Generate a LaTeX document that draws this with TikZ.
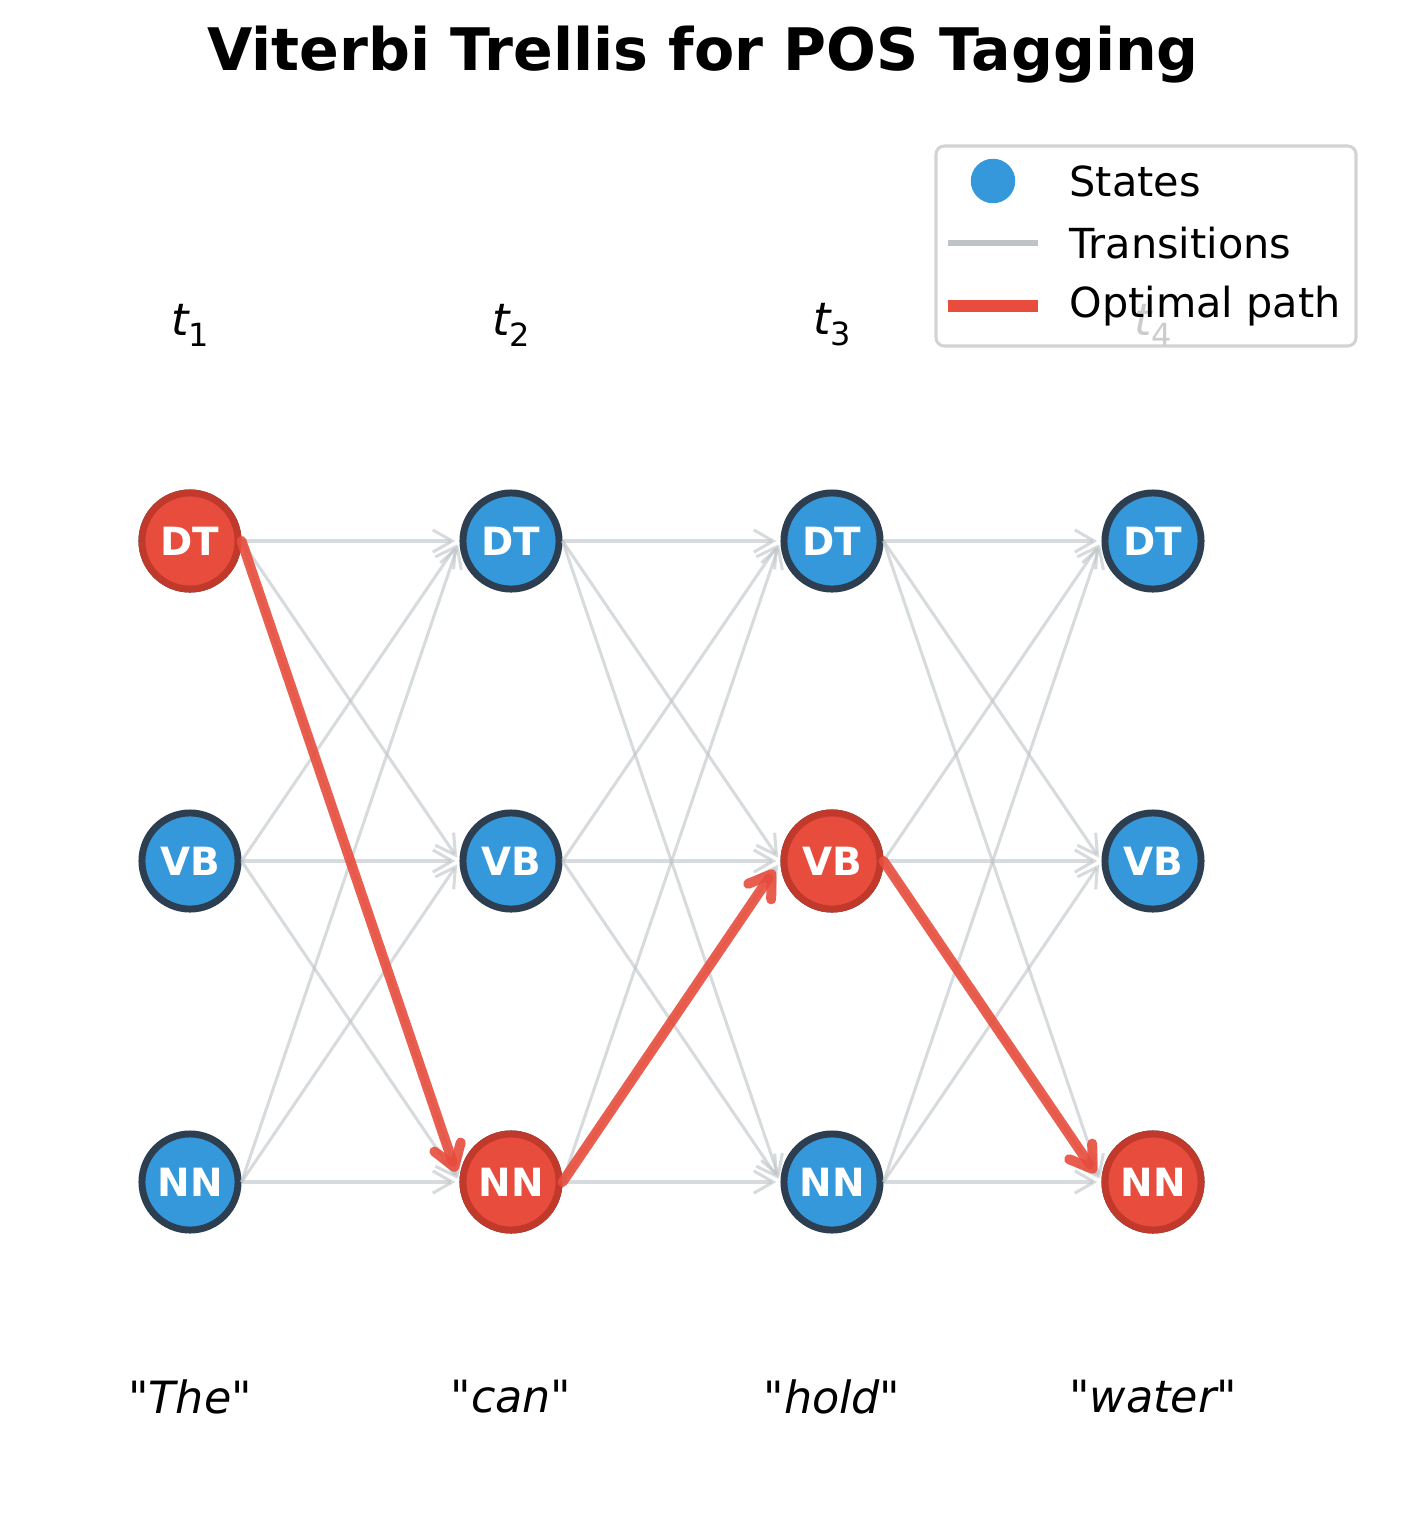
\documentclass[tikz,border=0pt]{standalone}
\usepackage{fontspec}
\setmainfont{DejaVu Sans}
\usepackage{tikz}
\usetikzlibrary{arrows.meta}
\definecolor{stateblue}{HTML}{3498DB}
\definecolor{stateedge}{HTML}{2C3E50}
\definecolor{pathred}{HTML}{E74C3C}
\definecolor{pathedge}{HTML}{C0392B}
\definecolor{transgray}{HTML}{BDC3C7}
\definecolor{legendgray}{HTML}{D3D3D3}
\newcommand{\tstep}[1]{{\itshape t}\raisebox{-0.45ex}{\fontsize{11.5}{12}\selectfont #1}}
\newcommand{\quoted}[1]{{\upshape\textquotedbl}#1{\upshape\textquotedbl}}

\begin{document}
\begin{tikzpicture}[x=0.36pt,y=-0.36pt,
  state/.style={circle,minimum size=34.6pt,inner sep=0pt,line width=2.5pt,
    draw=stateedge,fill=stateblue,text=white,font=\bfseries\fontsize{14}{14}\selectfont},
  beststate/.style={state,draw=pathedge,fill=pathred},
  trans/.style={draw=transgray,draw opacity=0.6,line width=1.1pt,shorten >=1.5pt,
    -{Straight Barb[length=7pt,width=8pt]}},
  best/.style={draw=pathred,draw opacity=0.9,line width=3.6pt,line cap=round,shorten >=4pt,
    -{Straight Barb[length=7.5pt,width=10pt,round]}},
  word/.style={font=\itshape\fontsize{16}{16}\selectfont}]
\useasboundingbox (0,0) rectangle (1407,1534);
\node[font=\bfseries\fontsize{21.1}{22}\selectfont] (title) at (703,55) {Viterbi Trellis for POS Tagging};
% trellis states
\foreach \x/\i in {190/1,511/2,832/3,1153/4}{
  \node[font=\fontsize{16}{16}\selectfont] (t\i) at (\x,325) {\tstep{\i}};
  \foreach \y/\tag in {541/DT,861/VB,1182/NN}
    \node[state] (\tag\i) at (\x,\y) {\tag};
}
\foreach \tag/\i in {DT/1,NN/2,VB/3,NN/4}
  \node[beststate] at (\tag\i) {\tag};
% all transitions
\foreach \i/\j in {1/2,2/3,3/4}
  \foreach \a in {DT,VB,NN}
    \foreach \b in {DT,VB,NN}
      \draw[trans] (\a\i.east) -- (\b\j.west);
% optimal path
\draw[best] (DT1.east) -- (NN2.west);
\draw[best] (NN2.east) -- (VB3.west);
\draw[best] (VB3.east) -- (NN4.west);
% words
\node[word] (w1) at (190,1397) {\quoted{The}};
\node[word] (w2) at (511,1397) {\quoted{can}};
\node[word] (w3) at (832,1397) {\quoted{hold}};
\node[word] (w4) at (1153,1397) {\quoted{water}};
% legend
\draw[rounded corners=3pt,fill=white,fill opacity=0.8,draw=legendgray,line width=1.1pt]
  (936,146) rectangle (1356,346);
\fill[stateblue] (993,181) circle (8pt);
\draw[transgray,line width=2pt] (948,243) -- (1038,243);
\draw[pathred,line width=4.3pt] (948,306) -- (1038,306);
\begin{scope}[every node/.style={anchor=west,inner sep=0pt,font=\fontsize{14.9}{15}\selectfont}]
\node (legstates) at (1069,181) {States};
\node (legtrans) at (1069,243) {Transitions};
\node (legpath) at (1069,306) {Optimal path};
\end{scope}
\end{tikzpicture}
\end{document}
